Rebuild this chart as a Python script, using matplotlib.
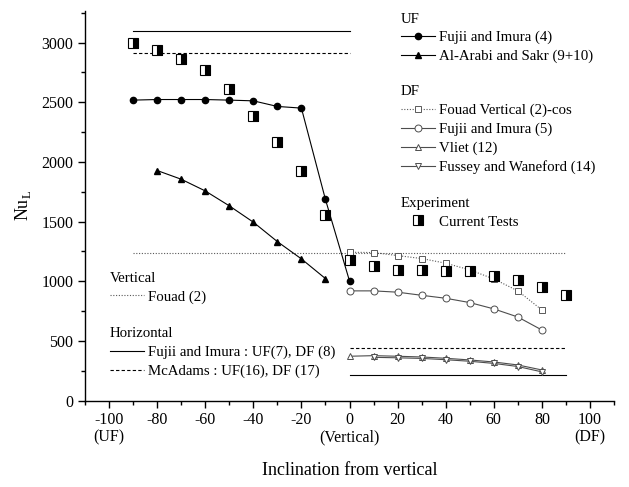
import matplotlib
matplotlib.use('Agg')
import matplotlib.pyplot as plt
from matplotlib.ticker import MultipleLocator

plt.rcParams['font.family'] = ['Liberation Serif', 'DejaVu Serif']
plt.rcParams['mathtext.fontset'] = 'custom'
plt.rcParams['mathtext.rm'] = 'Liberation Serif'

# UF correlations (negative inclination = upward flow)
uf_x = [-90, -80, -70, -60, -50, -40, -30, -20, -10, 0]
fujii_uf = [2518, 2523, 2523, 2523, 2518, 2512, 2465, 2451, 1685, 1002]
arabi_x = [-80, -70, -60, -50, -40, -30, -20, -10]
arabi_uf = [1928, 1855, 1757, 1632, 1495, 1332, 1187, 1022]

# DF correlations
df_x = [0, 10, 20, 30, 40, 50, 60, 70, 80]
fouad_cos = [1243, 1240, 1215, 1190, 1151, 1095, 1019, 919, 759]
fujii_df = [919, 919, 908, 882, 857, 821, 768, 700, 591]
vliet_df = [371, 376, 371, 365, 354, 340, 323, 298, 256]
fussey_x = [10, 20, 30, 40, 50, 60, 70, 80]
fussey_df = [362, 358, 353, 342, 329, 311, 285, 240]

# current tests
exp_x = [-90, -80, -70, -60, -50, -40, -30, -20, -10, 0,
         10, 20, 30, 40, 50, 60, 70, 80, 90]
exp_nu = [2993, 2940, 2862, 2772, 2610, 2381, 2166, 1928, 1556, 1178,
          1131, 1097, 1095, 1086, 1084, 1047, 1011, 952, 888]

# constant reference lines: (x start, x end, value)
fouad_vert = (-90, 90, 1235)
fujii_horiz_uf = (-90, 0, 3100)
mcadams_horiz_uf = (-90, 0, 2910)
fujii_horiz_df = (0, 90, 214)
mcadams_horiz_df = (0, 90, 440)

fig = plt.figure(figsize=(6.29, 4.87), dpi=100)
ax = fig.add_axes([0.1351, 0.1776, 0.8411, 0.7998])

lw = 0.8
k = 'black'

# horizontal / vertical references
l_vert, = ax.plot(fouad_vert[:2], [fouad_vert[2]] * 2, ls=(0, (1, 1.5)), color='0.35', lw=lw)
l_fh, = ax.plot(fujii_horiz_uf[:2], [fujii_horiz_uf[2]] * 2, '-', color=k, lw=lw)
ax.plot(fujii_horiz_df[:2], [fujii_horiz_df[2]] * 2, '-', color=k, lw=lw)
l_mc, = ax.plot(mcadams_horiz_uf[:2], [mcadams_horiz_uf[2]] * 2, ls=(0, (3, 2)), color=k, lw=lw)
ax.plot(mcadams_horiz_df[:2], [mcadams_horiz_df[2]] * 2, ls=(0, (3, 2)), color=k, lw=lw)

# UF
l1, = ax.plot(uf_x, fujii_uf, '-o', color=k, lw=lw, ms=4.5)
l2, = ax.plot(arabi_x, arabi_uf, '-^', color=k, lw=lw, ms=5)

# DF
l3, = ax.plot(df_x, fouad_cos, ls=(0, (1, 1.5)), marker='s', color='0.35', lw=lw,
              ms=4.5, mfc='white', mew=0.7)
l4, = ax.plot(df_x, fujii_df, '-o', color='0.3', lw=lw, ms=5, mfc='white', mew=0.7)
l5, = ax.plot(df_x, vliet_df, '-^', color='0.3', lw=lw, ms=5, mfc='white', mew=0.7)
l6, = ax.plot(fussey_x, fussey_df, '-v', color='0.3', lw=lw, ms=5, mfc='white', mew=0.7)

# experiment
l7, = ax.plot(exp_x, exp_nu, 's', color=k, ms=7, fillstyle='right',
              mfc=k, mfcalt='white', mec=k, mew=0.8)

ax.set_xlim(-110, 110)
ax.set_ylim(0, 3265)
ax.xaxis.set_major_locator(MultipleLocator(20))
ax.xaxis.set_minor_locator(MultipleLocator(10))
ax.yaxis.set_major_locator(MultipleLocator(500))
ax.yaxis.set_minor_locator(MultipleLocator(250))
xt = list(range(-100, 101, 20))
labels = [str(v) for v in xt]
labels[0] = '-100\n(UF)'
labels[5] = '0\n(Vertical)'
labels[-1] = '100\n(DF)'
ax.set_xticks(xt)
ax.set_xticklabels(labels, linespacing=1.05)
ax.tick_params(which='major', direction='out', length=5, width=1, labelsize=11.5)
ax.tick_params(which='minor', direction='out', length=3, width=1)
for s in ['top', 'right']:
    ax.spines[s].set_visible(False)
for s in ['left', 'bottom']:
    ax.spines[s].set_linewidth(1)

ax.set_ylabel(r'Nu$_\mathrm{L}$', fontsize=13, labelpad=6)
ax.set_xlabel('Inclination from vertical', fontsize=13, labelpad=12)

leg_kw = dict(frameon=False, loc='upper left', alignment='left', fontsize=10.7,
              title_fontsize=10.7, handlelength=2.3, handletextpad=0.3,
              borderpad=0, borderaxespad=0, labelspacing=0.36, numpoints=1)

lg = ax.legend([l1, l2], ['Fujii and Imura (4)', 'Al-Arabi and Sakr (9+10)'],
               title='UF', bbox_to_anchor=(0.597, 0.996), **leg_kw)
ax.add_artist(lg)
lg = ax.legend([l3, l4, l5, l6], ['Fouad Vertical (2)-cos', 'Fujii and Imura (5)',
                                  'Vliet (12)', 'Fussey and Waneford (14)'],
               title='DF', bbox_to_anchor=(0.597, 0.809), **leg_kw)
ax.add_artist(lg)
lg = ax.legend([l7], ['Current Tests'], title='Experiment',
               bbox_to_anchor=(0.597, 0.523), **leg_kw)
ax.add_artist(lg)
lg = ax.legend([l_vert], ['Fouad (2)'], title='Vertical',
               bbox_to_anchor=(0.047, 0.331), **leg_kw)
ax.add_artist(lg)
ax.legend([l_fh, l_mc], ['Fujii and Imura : UF(7), DF (8)', 'McAdams : UF(16), DF (17)'],
          title='Horizontal', bbox_to_anchor=(0.047, 0.188), **leg_kw)

fig.savefig('out.png', dpi=100)
